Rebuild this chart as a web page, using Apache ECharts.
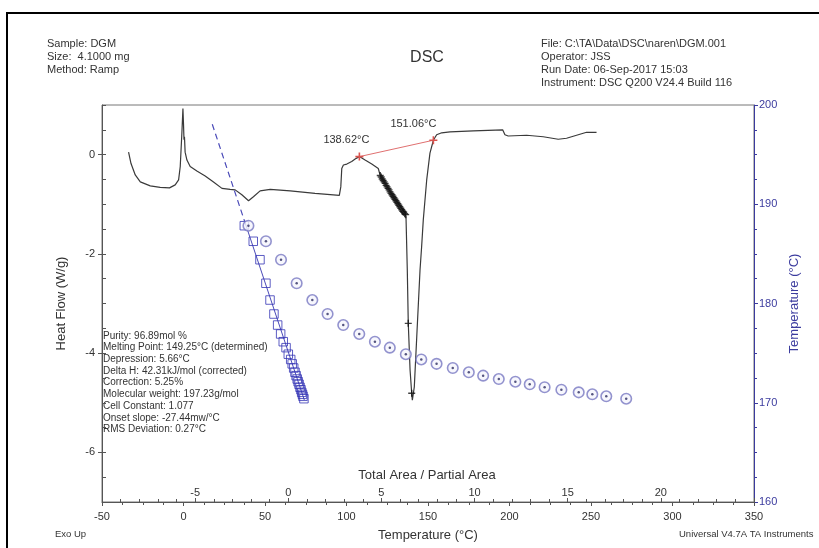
<!DOCTYPE html>
<html><head><meta charset="utf-8">
<script src="https://cdn.jsdelivr.net/npm/echarts@6/dist/echarts.min.js"></script>
<style>html,body{margin:0;padding:0;background:#fff}#c{width:819px;height:548px}</style>
</head><body><div id="c"></div>
<script>
// DSC heat flow curve (Temperature °C, Heat Flow W/g)
const dscTemp = [-33.7,-32.2,-29.6,-26.5,-20.4,-14.3,-8.6,-5.1,-3.0,-2.0,-1.0,-0.35,0.0,0.3,0.6,1.0,2.1,4.1,8.2,13.3,18.4,23.6,28.6,31.7,35.8,39.9,42.9,47.0,53.2,65.5,80.7,95.6,96.5,97.1,98.1,100.2,103.2,105.3,107.9,111.4,115.5,119.5,120.6,128.7,136.0,136.5,137.3,137.9,139.0,140.0,140.4,141.6,143.1,145.1,146.1,147.1,149.2,151.2,153.3,155.3,158.4,163.5,177.8,195.8,197.2,199.2,210.5,220.7,229.9,235.0,243.2,247.3,253.4];
const dscHeatFlow = [0.05,-0.18,-0.41,-0.55,-0.63,-0.66,-0.67,-0.61,-0.51,-0.24,0.43,0.93,0.62,0.30,0.36,0.05,-0.11,-0.24,-0.33,-0.43,-0.55,-0.68,-0.70,-0.71,-0.81,-0.93,-0.85,-0.73,-0.70,-0.73,-0.78,-0.82,-0.65,-0.28,-0.21,-0.19,-0.14,-0.09,-0.04,-0.11,-0.19,-0.28,-0.41,-0.85,-1.19,-1.25,-2.33,-3.40,-4.34,-4.81,-4.95,-4.68,-3.67,-2.33,-1.85,-1.32,-0.51,0.03,0.29,0.40,0.44,0.46,0.48,0.50,0.40,0.375,0.39,0.36,0.31,0.33,0.41,0.45,0.45];
// partial-area integration points
const partialTemp = [120.7,121.3,121.9,122.5,123.1,123.7,124.3,124.9,125.5,126.1,126.7,127.3,127.9,128.5,129.1,129.7,130.3,130.9,131.5,132.1,132.7,133.3,133.9,134.5,135.1,135.7,136.3,137.9,140.0];
const partialHeatFlow = [-0.42,-0.45,-0.49,-0.52,-0.55,-0.58,-0.62,-0.65,-0.68,-0.71,-0.75,-0.78,-0.81,-0.84,-0.87,-0.90,-0.93,-0.96,-0.99,-1.02,-1.05,-1.08,-1.11,-1.14,-1.16,-1.19,-1.21,-3.40,-4.81];
// integration baseline
const baselineTemp = [107.9, 153.3];
const baselineHeatFlow = [-0.04, 0.29];
const baselineLabels = ['138.62°C', '151.06°C'];
// purity plot: sample temperature vs total area / partial area
const sampleTemp = [187.84,186.27,184.41,182.04,180.35,178.94,177.83,176.93,176.15,175.55,174.89,174.36,173.92,173.50,173.07,172.73,172.39,172.12,171.86,171.56,171.31,171.05,170.85,170.65,170.41];
const areaRatio = [-2.36,-1.88,-1.52,-1.20,-0.98,-0.77,-0.57,-0.41,-0.27,-0.12,0.0,0.13,0.21,0.29,0.36,0.42,0.48,0.53,0.58,0.63,0.68,0.72,0.76,0.79,0.84];
const correctedAreaRatio = [-2.14,-1.20,-0.39,0.45,1.29,2.11,2.95,3.81,4.65,5.45,6.31,7.14,7.96,8.83,9.69,10.46,11.30,12.19,12.96,13.76,14.66,15.59,16.32,17.07,18.14];
const fitArea = [-4.08, -2.33, 0.86];
const fitTemp = [198.06, 188.2, 170.28];
// axis ticks
const heatFlowTicks = [-6, -4, -2, 0];
const resultsText = ['Purity: 96.89mol %','Melting Point: 149.25°C (determined)','Depression: 5.66°C','Delta H: 42.31kJ/mol (corrected)','Correction: 5.25%','Molecular weight: 197.23g/mol','Cell Constant: 1.077','Onset slope: -27.44mw/°C','RMS Deviation: 0.27°C'];
const headerLeft = ['Sample: DGM','Size:  4.1000 mg','Method: Ramp'];
const headerRight = ['File: C:\\TA\\Data\\DSC\\naren\\DGM.001','Operator: JSS','Run Date: 06-Sep-2017 15:03','Instrument: DSC Q200 V24.4 Build 116'];

const FONT = 'Liberation Sans, Arial, sans-serif';
const TXT = '#333';
const BLUE = '#3b3b9e';
const zip = (a, b) => a.map((v, i) => [v, b[i]]);
const plusPath = 'path://M4,0h2v4h4v2h-4v4h-2v-4h-4v-2h4z';

const chart = echarts.init(document.getElementById('c'), null, {renderer: 'canvas'});
chart.setOption({
  animation: false,
  backgroundColor: '#fff',
  textStyle: {fontFamily: FONT},
  grid: {left: 102, right: 65, top: 105, bottom: 46, show: true, borderColor: '#777', borderWidth: 1},
  xAxis: [
    {type: 'value', min: -50, max: 350, interval: 50, position: 'bottom',
     name: 'Temperature (°C)', nameLocation: 'middle', nameGap: 27,
     nameTextStyle: {fontSize: 13, color: TXT, fontFamily: FONT},
     axisLine: {onZero: false, lineStyle: {color: '#555'}},
     axisTick: {show: true, length: 4, lineStyle: {color: '#555'}},
     minorTick: {show: true, splitNumber: 4, length: 3, lineStyle: {color: '#555'}},
     axisLabel: {fontSize: 11, color: TXT, margin: 9, fontFamily: FONT},
     splitLine: {show: false}},
    {type: 'value', min: -10, max: 25, interval: 5, position: 'bottom',
     axisLine: {onZero: false, show: false},
     axisTick: {show: true, inside: true, length: 4, lineStyle: {color: '#555'}},
     minorTick: {show: true, splitNumber: 5, length: 3, lineStyle: {color: '#555'}},
     axisLabel: {inside: true, fontSize: 11, color: TXT, margin: 4, fontFamily: FONT, showMinLabel: false, showMaxLabel: false},
     splitLine: {show: false}}
  ],
  yAxis: [
    {type: 'value', min: -7, max: 1, position: 'left',
     name: 'Heat Flow (W/g)', nameLocation: 'middle', nameGap: 34,
     nameTextStyle: {fontSize: 13, color: TXT, fontFamily: FONT},
     axisLine: {onZero: false, show: true, lineStyle: {color: '#555'}},
     axisTick: {show: true, length: 4, customValues: heatFlowTicks, lineStyle: {color: '#555'}},
     axisLabel: {fontSize: 11, color: TXT, margin: 7, customValues: heatFlowTicks, fontFamily: FONT},
     splitLine: {show: false}},
    {type: 'value', min: -7, max: 1, interval: 0.5, position: 'left',
     axisLine: {show: false, onZero: false},
     axisTick: {show: true, inside: true, length: 4, lineStyle: {color: '#555'}},
     axisLabel: {show: false},
     splitLine: {show: false}},
    {type: 'value', min: 160, max: 200, interval: 10, position: 'right',
     name: 'Temperature (°C)', nameLocation: 'middle', nameGap: 34, nameRotate: 90,
     nameTextStyle: {fontSize: 13, color: BLUE, fontFamily: FONT},
     axisLine: {onZero: false, show: true, lineStyle: {color: BLUE}},
     axisTick: {show: true, length: 4, lineStyle: {color: BLUE}},
     minorTick: {show: true, splitNumber: 4, length: 3, lineStyle: {color: BLUE}},
     axisLabel: {fontSize: 11, color: BLUE, margin: 5, fontFamily: FONT},
     splitLine: {show: false}}
  ],
  series: [
    {type: 'line', name: 'Heat Flow', xAxisIndex: 0, yAxisIndex: 0, data: zip(dscTemp, dscHeatFlow),
     showSymbol: false, lineStyle: {color: '#3a3a3a', width: 1.2}, z: 3},
    {type: 'scatter', name: 'Partial areas', xAxisIndex: 0, yAxisIndex: 0, data: zip(partialTemp, partialHeatFlow),
     symbol: plusPath, symbolSize: 7, itemStyle: {color: '#111'}, z: 4},
    {type: 'line', name: 'Baseline', xAxisIndex: 0, yAxisIndex: 0,
     data: baselineTemp.map((t, i) => ({value: [t, baselineHeatFlow[i]],
       label: {show: true, formatter: baselineLabels[i], position: 'top', offset: i === 0 ? [-13, -2] : [-20, -2]}})),
     symbol: plusPath, symbolSize: 8, showSymbol: true,
     itemStyle: {color: '#d9534f'}, lineStyle: {color: '#e07070', width: 1},
     label: {fontSize: 11, color: TXT, fontFamily: FONT}, z: 5},
    {type: 'line', name: 'Fit dashed', xAxisIndex: 1, yAxisIndex: 2, data: zip(fitArea.slice(0, 2), fitTemp.slice(0, 2)),
     showSymbol: false, lineStyle: {color: '#4a4ab8', width: 1.2, type: [6, 4]}, z: 3},
    {type: 'line', name: 'Fit', xAxisIndex: 1, yAxisIndex: 2, data: zip(fitArea.slice(1), fitTemp.slice(1)),
     showSymbol: false, lineStyle: {color: '#4a4ab8', width: 1}, z: 3},
    {type: 'scatter', name: 'Area ratio', xAxisIndex: 1, yAxisIndex: 2, data: zip(areaRatio, sampleTemp),
     symbol: 'rect', symbolSize: 8.5, itemStyle: {color: 'rgba(0,0,0,0)', borderColor: '#3535b5', borderWidth: 1}, z: 4},
    {type: 'scatter', name: 'Corrected ring', xAxisIndex: 1, yAxisIndex: 2, data: zip(correctedAreaRatio, sampleTemp),
     symbol: 'circle', symbolSize: 10.5, itemStyle: {color: '#f5f5fc', borderColor: '#7878c2', borderWidth: 1.6}, z: 4},
    {type: 'scatter', name: 'Corrected dot', xAxisIndex: 1, yAxisIndex: 2, data: zip(correctedAreaRatio, sampleTemp),
     symbol: 'circle', symbolSize: 2.5, itemStyle: {color: '#2a2a60'}, z: 5}
  ],
  graphic: [
    {type: 'rect', shape: {x: 7, y: 13, width: 900, height: 700}, style: {fill: 'none', stroke: '#000', lineWidth: 2}, silent: true},
    {type: 'text', x: 47, y: 37, style: {text: headerLeft.join('\n'), font: '11px ' + FONT, fill: TXT, lineHeight: 13}},
    {type: 'text', x: 427, y: 58, style: {text: 'DSC', font: '16px ' + FONT, fill: TXT, align: 'center', verticalAlign: 'middle'}},
    {type: 'text', x: 541, y: 37, style: {text: headerRight.join('\n'), font: '11px ' + FONT, fill: TXT, lineHeight: 13}},
    {type: 'text', x: 427, y: 475, style: {text: 'Total Area / Partial Area', font: '13px ' + FONT, fill: TXT, align: 'center', verticalAlign: 'middle'}},
    {type: 'text', x: 103, y: 330, style: {text: resultsText.join('\n'), font: '10px ' + FONT, fill: TXT, lineHeight: 11.7}},
    {type: 'text', x: 55, y: 534, style: {text: 'Exo Up', font: '9.5px ' + FONT, fill: TXT, verticalAlign: 'middle'}},
    {type: 'text', x: 679, y: 534, style: {text: 'Universal V4.7A TA Instruments', font: '9.5px ' + FONT, fill: TXT, verticalAlign: 'middle'}}
  ]
});
</script></body></html>
